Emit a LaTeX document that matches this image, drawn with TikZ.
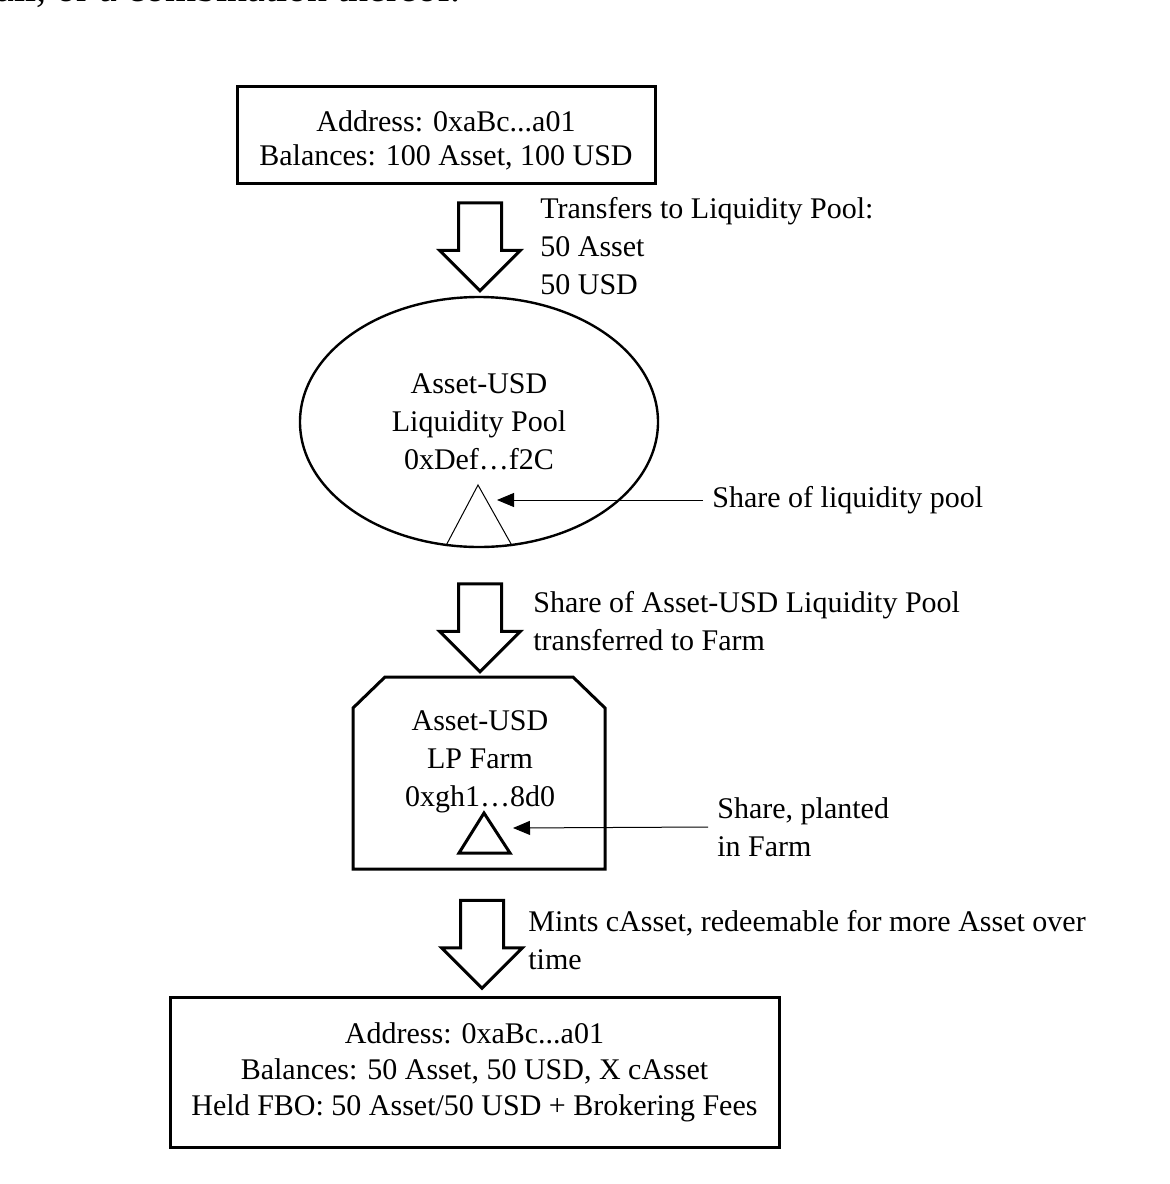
\documentclass[tikz,border=0pt]{standalone}
\usepackage{fontspec}
\setmainfont{Liberation Serif}
\usetikzlibrary{shapes.geometric, shapes.arrows, arrows.meta}

\begin{document}
\begin{tikzpicture}[
  x=0.5pt, y=-0.5pt,
  every node/.style={font=\fontsize{15}{19}\selectfont},
  acct/.style={draw, line width=1.5pt, align=center, inner sep=0pt, font=\fontsize{15}{18}\selectfont},
  flow/.style={draw, line width=1.5pt, single arrow, shape border rotate=270, single arrow tip angle=90, single arrow head extend=9.5pt, inner sep=10pt, minimum height=44pt},
  note/.style={align=left, anchor=west, inner sep=4.5pt},
  ptr/.style={-{Triangle[length=8.5pt,width=7pt]}, line width=0.5pt},
]
  \clip (0,0) rectangle (1170,1184);
  \node[anchor=base west, inner sep=0pt, font=\fontsize{20}{24}\selectfont] (cut) at (-4,1) {all, or a combination thereof.};

  % wallet before
  \node[acct, minimum width=209pt, minimum height=48.5pt] (wallet) at (446,134.5) {};
  \node[align=center, inner sep=0pt, font=\fontsize{15}{17}\selectfont] (walletinfo) at (446,140) {Address: 0xaBc...a01\\Balances: 100 Asset, 100 USD};
  \node[flow] (a1) at (480,236) {};
  \node[note] (n1) at (531,246) {Transfers to Liquidity Pool:\\50 Asset\\50 USD};

  % pool
  \node[draw, ellipse, line width=1.2pt, minimum width=179pt, minimum height=125pt, inner sep=0pt, align=center] (pool) at (479,422) {Asset-USD\\Liquidity Pool\\0xDef\ldots f2C};
  \coordinate (lp) at (478,485);
  \draw[line width=0.5pt] (pool.255) -- (lp) -- (pool.285);
  \node[note] (n2) at (703,500) {Share of liquidity pool};
  \draw[ptr] (n2.west) -- (497,500);

  \node[flow] (a2) at (480,617) {};
  \node[note] (n3) at (524,621) {Share of Asset-USD Liquidity Pool\\transferred to Farm};

  % farm
  \draw[line width=1.5pt] (385,677) -- (573,677) -- (605,708) -- (605,869) -- (353,869) -- (353,708) -- cycle;
  \node[align=center, inner sep=0pt] (farm) at (480,762) {Asset-USD\\LP Farm\\0xgh1\ldots 8d0};
  \draw[line width=1.5pt] (484,813) -- (510,853) -- (459,853) -- cycle;
  \coordinate (planted) at (513,828);
  \node[note] (n4) at (708,827) {Share, planted\\in Farm};
  \draw[ptr] (n4.west) -- (planted);

  \node[flow] (a3) at (482,933.5) {};
  \node[note] (n5) at (519,940) {Mints cAsset, redeemable for more Asset over\\time};

  % wallet after
  \node[acct, minimum width=304.5pt, minimum height=75pt] (wallet2) at (474.5,1072) {Address: 0xaBc...a01\\Balances: 50 Asset, 50 USD, X cAsset\\Held FBO: 50 Asset/50 USD + Brokering Fees};
\end{tikzpicture}
\end{document}
